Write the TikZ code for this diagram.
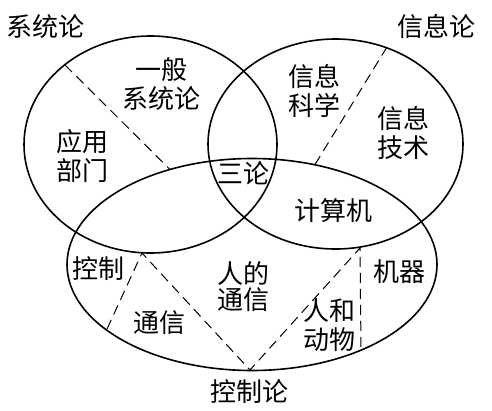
\documentclass[tikz,border=0pt]{standalone}
\usepackage{fontspec}
\setmainfont{Noto Sans CJK SC}
\usepackage{tikz}
\usetikzlibrary{shapes,positioning}
\tikzstyle{field} = [draw, ellipse, line width=1.6pt, inner sep=0pt]
\tikzstyle{txt} = [align=center, inner sep=0pt,
    font=\fontsize{26}{29}\selectfont]
\tikzstyle{coord} = [coordinate]
\tikzstyle{divider} = [line width=1pt, dash pattern=on 10pt off 6pt]

\begin{document}
\begin{tikzpicture}[x=1pt, y=-1pt]
		\useasboundingbox (0,0) rectangle (492,410);
		% the three fields
		\node[field, minimum width=253pt, minimum height=217pt] (sys) at (150.5,144.5) {};
		\node[field, minimum width=255pt, minimum height=210pt] (info) at (335.5,144) {};
		\node[field, minimum width=370pt, minimum height=212pt] (ctrl) at (252,264.5) {};
		
		\node[txt] (sys name) at (45,27) {系统论};
		\node[txt] (info name) at (436,27) {信息论};
		\node[txt] (ctrl name) at (249,392) {控制论};
		
		\node[txt] (general) at (161,84.5) {一般\\系统论};
		\node[txt] (applied) at (82,156) {应用\\部门};
		\node[txt] (info sci) at (314,90.5) {信息\\科学};
		\node[txt] (info tech) at (403,132.5) {信息\\技术};
		\node[txt] (three) at (243,173) {三论};
		\node[txt] (computer) at (333,211) {计算机};
		\node[txt] (control) at (98,269) {控制};
		\node[txt] (machine) at (399,272) {机器};
		\node[txt, font=\fontsize{26}{26}\selectfont] (human) at (243.5,287) {人的\\通信};
		\node[txt] (comm) at (159,323) {通信};
		\node[txt] (animal) at (329,325) {人和\\动物};
		
		% end points of the dashed dividers
		\node[coord] (sys top) at (65,65) {};
		\node[coord] (sys cut) at (170,169.5) {};
		\node[coord] (info top) at (387,47) {};
		\node[coord] (info cut) at (315,164.5) {};
		\node[coord] (left end) at (107,329) {};
		\node[coord] (left peak) at (142,253) {};
		\node[coord] (bottom) at (250,370) {};
		\node[coord] (right peak) at (360,248) {};
		\node[coord] (right end) at (361,350) {};
		
		\draw[divider] (sys top) to (sys cut);
		\draw[divider] (info top) to (info cut);
		\draw[divider] (left end) to (left peak) to (bottom) to (right peak) to (right end);
	\end{tikzpicture}
\end{document}
